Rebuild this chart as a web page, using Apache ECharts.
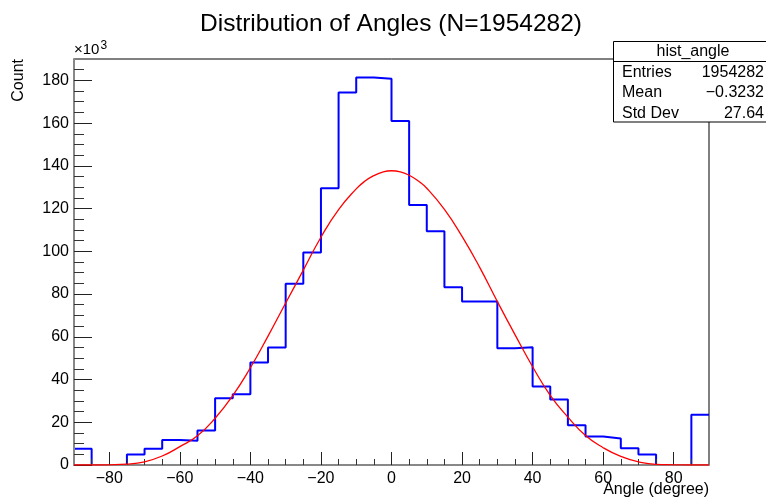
<!DOCTYPE html>
<html>
<head>
<meta charset="utf-8">
<script src="https://cdn.jsdelivr.net/npm/echarts@6/dist/echarts.min.js"></script>
<style>
  html, body { margin: 0; padding: 0; background: #fff; }
  #chart { width: 766px; height: 499px; }
</style>
</head>
<body>
<div id="chart"></div>
<script>
// histogram bins: lower edges (degree), counts in thousands
const binLow = [-90, -85, -80, -75, -70, -65, -60, -55, -50, -45, -40, -35,
                -30, -25, -20, -15, -10, -5, 0, 5, 10, 15, 20, 25,
                30, 35, 40, 45, 50, 55, 60, 65, 70, 75, 80, 85];
const binHigh = 90;
const counts = [7.6, 0, 0, 4.9, 7.6, 11.7, 11.3, 16.2, 31.2, 33.1, 48.0, 55.0,
                84.8, 99.4, 129.5, 174.3, 181.3, 180.8, 161.0, 121.7, 109.4, 83.2, 76.5, 76.5,
                54.6, 55.1, 36.7, 30.6, 18.6, 13.3, 12.4, 7.8, 4.9, 0, 0, 23.5];

// fitted curve
const fitX = [-90, -85, -80, -75, -70, -65, -60, -55, -50, -45, -40, -35, -30, -25, -20, -15, -10, -7.5, -5, -2.5,
              0, 2.5, 5, 7.5, 10, 15, 20, 25, 30, 35, 40, 45, 50, 55, 60, 65, 70, 75, 80, 85, 90];
const fitY = [0.0, 0.0, 0.1, 0.4, 1.5, 4.2, 8.6, 13.7, 21.9, 32.5, 45.5, 60.3, 75.8, 91.2, 106.6, 119.5, 129.2, 132.9, 135.4, 137.1,
              137.7, 137.2, 135.6, 133.0, 129.5, 119.6, 107.0, 92.5, 76.5, 61.0, 46.0, 32.6, 22.4, 13.8, 8.1, 4.0, 1.5, 0.3, 0.1, 0.0, 0.0];

// ticks
const xMajor = [-80, -60, -40, -20, 0, 20, 40, 60, 80];
const xMinor = [-85, -75, -70, -65, -55, -50, -45, -35, -30, -25, -15, -10, -5,
                5, 10, 15, 25, 30, 35, 45, 50, 55, 65, 70, 75, 85];
const yMajor = [0, 20, 40, 60, 80, 100, 120, 140, 160, 180];
const yMinor = [5, 10, 15, 25, 30, 35, 45, 50, 55, 65, 70, 75, 85, 90, 95, 105, 110, 115,
                125, 130, 135, 145, 150, 155, 165, 170, 175, 185];

const stats = [['Entries', '1954282'], ['Mean', '\u22120.3232'], ['Std Dev', '27.64']];

const FONT = '"Liberation Sans", Arial, Helvetica, sans-serif';

const histData = binLow.map((x, i) => [x, counts[i]]);
histData.push([binHigh, counts[counts.length - 1]]);
const fitData = fitX.map((x, i) => [x, fitY[i]]);

const chart = echarts.init(document.getElementById('chart'));

const statsGraphics = [
  { type: 'rect', shape: { x: 613.5, y: 41.5, width: 160, height: 80.5 },
    style: { fill: '#fff', stroke: '#000', lineWidth: 1 }, z: 100 },
  { type: 'line', shape: { x1: 613.5, y1: 61.5, x2: 770, y2: 61.5 },
    style: { stroke: '#000', lineWidth: 1 }, z: 101 },
  { type: 'text', x: 693, y: 51.5, z: 101,
    style: { text: 'hist_angle', font: '16px ' + FONT, fill: '#000', align: 'center', verticalAlign: 'middle' } }
];
stats.forEach((row, i) => {
  const y = 72.5 + i * 20.3;
  statsGraphics.push({ type: 'text', x: 622, y: y, z: 101,
    style: { text: row[0], font: '16px ' + FONT, fill: '#000', align: 'left', verticalAlign: 'middle' } });
  statsGraphics.push({ type: 'text', x: 764, y: y, z: 101,
    style: { text: row[1], font: '16px ' + FONT, fill: '#000', align: 'right', verticalAlign: 'middle' } });
});

const option = {
  animation: false,
  backgroundColor: '#fff',
  grid: { left: 74, right: 57, top: 59, bottom: 34, show: true, borderColor: '#000', borderWidth: 1, backgroundColor: 'transparent' },
  xAxis: [
    {
      type: 'value', min: -90, max: 90, z: 5,
      axisLine: { show: true, onZero: false, lineStyle: { color: '#888', width: 2 } },
      axisTick: { show: true, inside: true, length: 13, customValues: xMajor, lineStyle: { color: '#222', width: 1 } },
      axisLabel: { show: true, customValues: xMajor, margin: 6, color: '#000', fontSize: 16, fontFamily: FONT,
        formatter: v => String(v).replace('-', '\u2212') },
      splitLine: { show: false }
    },
    {
      type: 'value', min: -90, max: 90, position: 'bottom', z: 5,
      axisLine: { show: false, onZero: false },
      axisTick: { show: true, inside: true, length: 6, customValues: xMinor, lineStyle: { color: '#333', width: 1 } },
      axisLabel: { show: false },
      splitLine: { show: false }
    }
  ],
  yAxis: [
    {
      type: 'value', min: 0, max: 190, z: 5,
      axisLine: { show: true, onZero: false, lineStyle: { color: '#888', width: 2 } },
      axisTick: { show: true, inside: true, length: 18, customValues: yMajor, lineStyle: { color: '#222', width: 1 } },
      axisLabel: { show: true, customValues: yMajor, margin: 5, color: '#000', fontSize: 16, fontFamily: FONT },
      splitLine: { show: false }
    },
    {
      type: 'value', min: 0, max: 190, position: 'left', z: 5,
      axisLine: { show: false, onZero: false },
      axisTick: { show: true, inside: true, length: 10, customValues: yMinor, lineStyle: { color: '#333', width: 1 } },
      axisLabel: { show: false },
      splitLine: { show: false }
    }
  ],
  series: [
    {
      name: 'hist_angle', type: 'line', step: 'end', data: histData,
      xAxisIndex: 0, yAxisIndex: 0, showSymbol: false, symbol: 'none',
      lineStyle: { color: '#0000ff', width: 2 }, z: 2
    },
    {
      name: 'fit', type: 'line', data: fitData, smooth: true,
      xAxisIndex: 0, yAxisIndex: 0, showSymbol: false, symbol: 'none',
      lineStyle: { color: '#ff0000', width: 1.3 }, z: 6
    }
  ],
  graphic: [
    { type: 'text', x: 391, y: 24,
      style: { text: 'Distribution of Angles (N=1954282)', font: '24.5px ' + FONT, fill: '#000', align: 'center', verticalAlign: 'middle' } },
    { type: 'text', x: 19, y: 59, rotation: Math.PI / 2,
      style: { text: 'Count', font: '16px ' + FONT, fill: '#000', align: 'right', verticalAlign: 'middle' } },
    { type: 'text', x: 74, y: 57.5,
      style: { text: '\u00d710', font: '15px ' + FONT, fill: '#000', align: 'left', verticalAlign: 'bottom' } },
    { type: 'text', x: 100.5, y: 52,
      style: { text: '3', font: '12px ' + FONT, fill: '#000', align: 'left', verticalAlign: 'bottom' } },
    { type: 'text', x: 709, y: 490,
      style: { text: 'Angle (degree)', font: '16px ' + FONT, fill: '#000', align: 'right', verticalAlign: 'middle' } }
  ].concat(statsGraphics)
};

chart.setOption(option);
</script>
</body>
</html>
